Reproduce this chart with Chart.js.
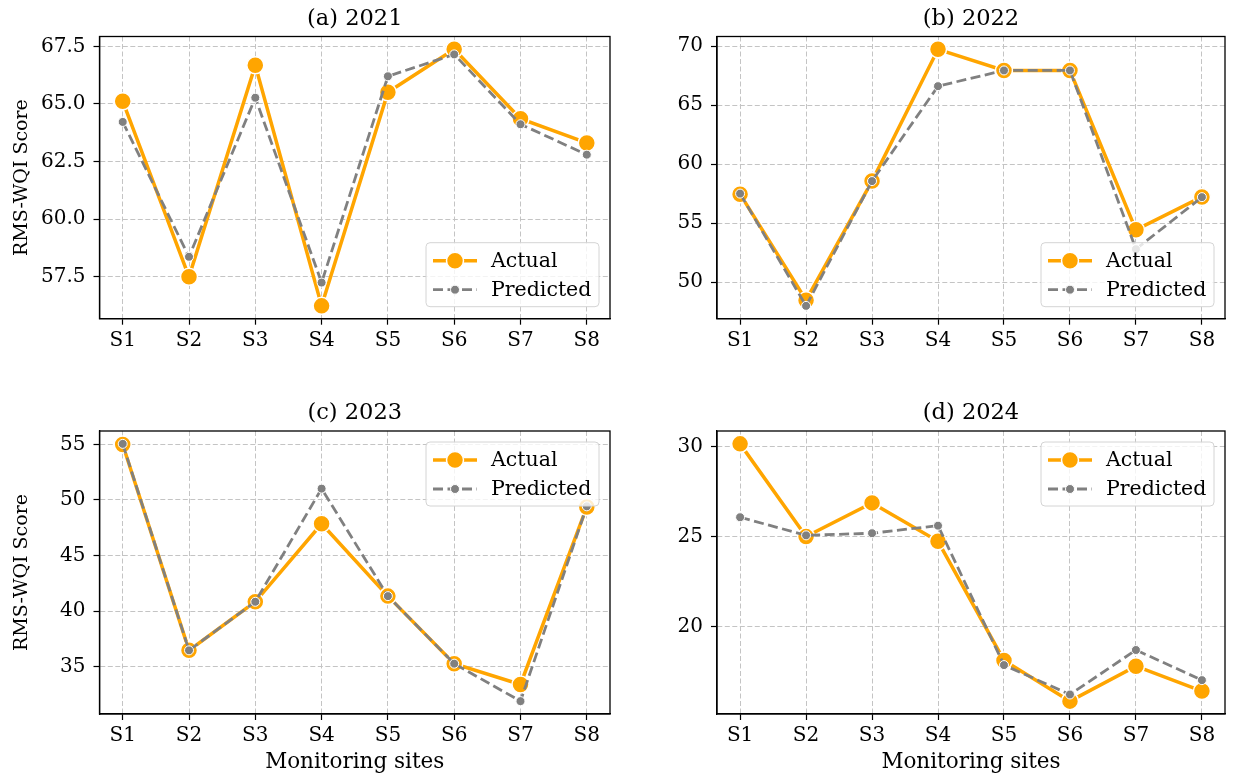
<!DOCTYPE html>
<html lang="en">
<head>
<meta charset="UTF-8">
<title>RMS-WQI Score: Actual vs Predicted</title>
<style>
  * { margin: 0; padding: 0; box-sizing: border-box; }
  body { width: 1235px; height: 778px; background: #fff; position: relative; overflow: hidden; }
  canvas { position: absolute; }
</style>
</head>
<body>
<canvas id="c2021" width="620" height="388" style="left:0;top:0"></canvas>
<canvas id="c2022" width="615" height="388" style="left:620px;top:0"></canvas>
<canvas id="c2023" width="620" height="390" style="left:0;top:388px"></canvas>
<canvas id="c2024" width="615" height="390" style="left:620px;top:388px"></canvas>

<script src="https://cdn.jsdelivr.net/npm/chart.js"></script>
<script>
// monitoring sites (x categories)
const sites = ['S1', 'S2', 'S3', 'S4', 'S5', 'S6', 'S7', 'S8'];

// RMS-WQI scores
const actual2021    = [65.12, 57.50, 66.68, 56.24, 65.51, 67.37, 64.36, 63.31];
const predicted2021 = [64.22, 58.37, 65.27, 57.25, 66.20, 67.15, 64.12, 62.80];

const actual2022    = [57.45, 48.47, 58.56, 69.72, 67.93, 67.93, 54.43, 57.22];
const predicted2022 = [57.50, 47.99, 58.56, 66.60, 67.93, 67.93, 52.79, 57.20];

const actual2023    = [55.00, 36.47, 40.84, 47.86, 41.35, 35.27, 33.40, 49.37];
const predicted2023 = [55.05, 36.47, 40.84, 51.02, 41.35, 35.27, 31.90, 49.43];

const actual2024    = [30.17, 25.00, 26.88, 24.74, 18.10, 15.83, 17.78, 16.39];
const predicted2024 = [26.08, 25.07, 25.19, 25.61, 17.84, 16.20, 18.68, 17.00];

const ORANGE = '#FFA500';
const GREY = '#808080';
const FONT = "'DejaVu Serif', serif";

Chart.defaults.font.family = FONT;
Chart.defaults.font.size = 20;
Chart.defaults.color = '#000';

// frame, panel title and matplotlib-like legend inside the axes
const panelDecor = {
    id: 'panelDecor',
    afterDraw(chart, args, opts) {
        const ctx = chart.ctx;
        const a = chart.chartArea;
        ctx.save();

        ctx.strokeStyle = '#000';
        ctx.lineWidth = 1.3;
        ctx.strokeRect(a.left, a.top, a.right - a.left, a.bottom - a.top);

        ctx.fillStyle = '#000';
        ctx.font = '22.5px ' + FONT;
        ctx.textAlign = 'center';
        ctx.textBaseline = 'alphabetic';
        ctx.fillText(opts.title, (a.left + a.right) / 2, a.top - 12);

        const lw = 173, lh = 64;
        const lx = a.right - 11 - lw;
        const ly = opts.legendAt === 'lower' ? a.bottom - 12 - lh : a.top + 11;
        ctx.beginPath();
        ctx.roundRect(lx, ly, lw, lh, 4);
        ctx.fillStyle = 'rgba(255,255,255,0.8)';
        ctx.fill();
        ctx.strokeStyle = '#d4d4d4';
        ctx.lineWidth = 1;
        ctx.stroke();

        const rows = [
            { y: ly + 18, text: 'Actual', color: ORANGE, width: 3.5, dash: [], r: 8.5, edge: 1.5 },
            { y: ly + 47, text: 'Predicted', color: GREY, width: 2.8, dash: [10, 4.5], r: 4.5, edge: 1 }
        ];
        rows.forEach(row => {
            ctx.beginPath();
            ctx.setLineDash(row.dash);
            ctx.strokeStyle = row.color;
            ctx.lineWidth = row.width;
            ctx.moveTo(lx + 7, row.y);
            ctx.lineTo(lx + 51, row.y);
            ctx.stroke();
            ctx.setLineDash([]);
            ctx.beginPath();
            ctx.arc(lx + 29, row.y, row.r, 0, Math.PI * 2);
            ctx.fillStyle = row.color;
            ctx.fill();
            ctx.strokeStyle = '#fff';
            ctx.lineWidth = row.edge;
            ctx.stroke();

            ctx.fillStyle = '#000';
            ctx.font = '20.5px ' + FONT;
            ctx.textAlign = 'left';
            ctx.textBaseline = 'middle';
            ctx.fillText(row.text, lx + 65, row.y + 1);
        });
        ctx.restore();
    }
};

function toPoints(values) {
    return values.map((v, i) => ({ x: i, y: v }));
}

function makePanel(cfg) {
    const all = cfg.actual.concat(cfg.predicted);
    const lo = Math.min(...all), hi = Math.max(...all);
    const pad = (hi - lo) * 0.05;
    const canvas = document.getElementById(cfg.id);
    const h = canvas.height;

    new Chart(canvas, {
        type: 'line',
        data: {
            datasets: [
                {
                    label: 'Actual',
                    data: toPoints(cfg.actual),
                    borderColor: ORANGE,
                    backgroundColor: ORANGE,
                    borderWidth: 3.5,
                    pointRadius: 8.5,
                    pointBorderColor: '#fff',
                    pointBorderWidth: 1.5,
                    pointBackgroundColor: ORANGE,
                    tension: 0,
                    clip: false,
                    order: 2
                },
                {
                    label: 'Predicted',
                    data: toPoints(cfg.predicted),
                    borderColor: GREY,
                    backgroundColor: GREY,
                    borderWidth: 2.8,
                    borderDash: [10, 4.5],
                    pointRadius: 4.5,
                    pointBorderColor: '#fff',
                    pointBorderWidth: 1,
                    pointBackgroundColor: GREY,
                    tension: 0,
                    clip: false,
                    order: 1
                }
            ]
        },
        options: {
            responsive: false,
            animation: false,
            devicePixelRatio: 1,
            layout: {
                padding: { left: 0, top: cfg.top, right: cfg.right, bottom: 0 }
            },
            plugins: {
                legend: { display: false },
                tooltip: { enabled: false },
                panelDecor: { title: cfg.title, legendAt: cfg.legendAt }
            },
            scales: {
                x: {
                    type: 'linear',
                    min: -0.35,
                    max: 7.35,
                    afterFit: s => { s.height = h - cfg.bottom; },
                    ticks: {
                        stepSize: 1,
                        autoSkip: false,
                        maxRotation: 0,
                        includeBounds: false,
                        padding: 4,
                        callback: v => sites[v] ?? ''
                    },
                    grid: { color: '#c4c4c4', lineWidth: 1, tickColor: '#000', tickLength: 6, tickWidth: 1.2, tickBorderDash: [] },
                    border: { display: true, color: '#000', width: 1.3, dash: [5, 2.5] },
                    title: {
                        display: !!cfg.xLabel,
                        text: cfg.xLabel,
                        font: { size: 21.5 },
                        padding: { top: 0, bottom: 3 }
                    }
                },
                y: {
                    min: lo - pad,
                    max: hi + pad,
                    afterFit: s => { s.width = cfg.left; },
                    ticks: {
                        stepSize: cfg.step,
                        includeBounds: false,
                        padding: 8,
                        callback: v => v.toFixed(cfg.decimals)
                    },
                    grid: { color: '#c4c4c4', lineWidth: 1, tickColor: '#000', tickLength: 6, tickWidth: 1.2, tickBorderDash: [] },
                    border: { display: true, color: '#000', width: 1.3, dash: [5, 2.5] },
                    title: {
                        display: !!cfg.yLabel,
                        text: cfg.yLabel,
                        font: { size: 19 },
                        padding: { top: 11, bottom: 0 }
                    }
                }
            }
        },
        plugins: [panelDecor]
    });
}

// left/right/top/bottom: plot-area edges inside each canvas
makePanel({ id: 'c2021', title: '(a) 2021', actual: actual2021, predicted: predicted2021,
    step: 2.5, decimals: 1, legendAt: 'lower', yLabel: 'RMS-WQI Score', xLabel: '',
    left: 99.5, right: 4.5, top: 36.5, bottom: 318.7 });
makePanel({ id: 'c2022', title: '(b) 2022', actual: actual2022, predicted: predicted2022,
    step: 5, decimals: 0, legendAt: 'lower', yLabel: '', xLabel: '',
    left: 97, right: 3, top: 36.5, bottom: 318.7 });
makePanel({ id: 'c2023', title: '(c) 2023', actual: actual2023, predicted: predicted2023,
    step: 5, decimals: 0, legendAt: 'upper', yLabel: 'RMS-WQI Score', xLabel: 'Monitoring sites',
    left: 99.5, right: 4.5, top: 43, bottom: 326 });
makePanel({ id: 'c2024', title: '(d) 2024', actual: actual2024, predicted: predicted2024,
    step: 5, decimals: 0, legendAt: 'upper', yLabel: '', xLabel: 'Monitoring sites',
    left: 97, right: 3, top: 43, bottom: 326 });
</script>
</body>
</html>
